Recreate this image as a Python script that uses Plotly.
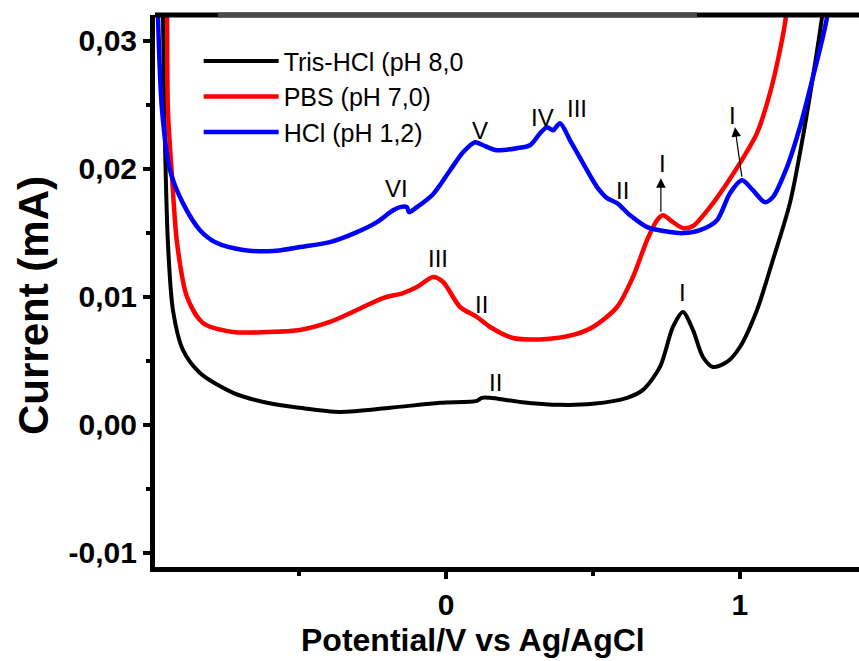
import plotly.graph_objects as go

# ---- data (Potential V vs Ag/AgCl, Current mA) ----
tris_x = [-0.966, -0.963, -0.956, -0.946, -0.929, -0.895, -0.837, -0.724, -0.609, -0.497, -0.361,
          -0.190, -0.020, 0.105, 0.122, 0.150, 0.252, 0.388, 0.500, 0.616, 0.670, 0.728,
          0.772, 0.806, 0.840, 0.874, 0.908, 0.956, 1.000, 1.058, 1.112, 1.170, 1.214,
          1.248, 1.279, 1.290]
tris_y = [0.0345, 0.0320, 0.0220, 0.0142, 0.00897, 0.00585, 0.00405, 0.00250, 0.00172, 0.00133,
          0.00101, 0.00133, 0.00172, 0.00187, 0.00211, 0.00211, 0.00179, 0.00156, 0.00164,
          0.00211, 0.00273, 0.00452, 0.00764, 0.00881, 0.00741, 0.00530, 0.00452, 0.00491,
          0.00608, 0.00897, 0.01287, 0.01731, 0.02246, 0.02713, 0.03181, 0.0340]

pbs_x = [-0.950, -0.949, -0.946, -0.932, -0.915, -0.881, -0.827, -0.724, -0.609, -0.497, -0.395,
         -0.303, -0.214, -0.146, -0.099, -0.044, -0.010, 0.048, 0.105, 0.150, 0.228, 0.344,
         0.432, 0.500, 0.582, 0.636, 0.684, 0.718, 0.738, 0.772, 0.806, 0.840, 0.898, 0.956,
         1.000, 1.058, 1.102, 1.136, 1.156, 1.165]
pbs_y = [0.0345, 0.0320, 0.02456, 0.01934, 0.01419, 0.00998, 0.00795, 0.00725, 0.00725, 0.00741,
         0.00803, 0.00897, 0.00990, 0.01029, 0.01076, 0.01154, 0.01115, 0.00920, 0.00842,
         0.00764, 0.00678, 0.00671, 0.00702, 0.00764, 0.00920, 0.01154, 0.01442, 0.01598,
         0.01637, 0.01583, 0.01536, 0.01552, 0.01700, 0.01887, 0.02043, 0.02277, 0.02589,
         0.02924, 0.03181, 0.0345]

hcl_x = [-0.982, -0.980, -0.966, -0.939, -0.895, -0.837, -0.779, -0.690, -0.588, -0.497, -0.395,
         -0.303, -0.235, -0.180, -0.156, -0.133, -0.126, -0.099, -0.044, 0.014, 0.058, 0.099,
         0.126, 0.173, 0.241, 0.286, 0.320, 0.344, 0.364, 0.388, 0.422, 0.466, 0.514, 0.548,
         0.582, 0.626, 0.684, 0.762, 0.806, 0.864, 0.922, 0.966, 1.007, 1.044, 1.085, 1.112,
         1.160, 1.204, 1.248, 1.296, 1.305]
hcl_y = [0.0345, 0.0320, 0.02456, 0.01988, 0.01731, 0.01520, 0.01419, 0.01365, 0.01357, 0.01388,
         0.01427, 0.01505, 0.01583, 0.01676, 0.01700, 0.01700, 0.01661, 0.01700, 0.01801,
         0.01988, 0.02129, 0.02207, 0.02183, 0.02144, 0.02160, 0.02183, 0.02277, 0.02324,
         0.02300, 0.02355, 0.02222, 0.02043, 0.01856, 0.01770, 0.01731, 0.01637, 0.01544,
         0.01505, 0.01497, 0.01520, 0.01598, 0.01809, 0.01910, 0.01832, 0.01739, 0.01778,
         0.02012, 0.02324, 0.02713, 0.03181, 0.0345]

series_names = ["Tris-HCl (pH 8,0", "PBS (pH 7,0)", "HCl (pH 1,2)"]
series_colors = ["#000000", "#ff0000", "#0000ff"]

y_tickvals = [-0.01, 0.0, 0.01, 0.02, 0.03]
y_ticktext = ["-0,01", "0,00", "0,01", "0,02", "0,03"]
x_tickvals = [0, 1]
x_ticktext = ["0", "1"]

x_title = "Potential/V vs Ag/AgCl"
y_title = "Current (mA)"

# peak labels
label_text = ["VI", "V", "IV", "III", "II", "I", "III", "II", "I", "II", "I"]
label_x = [-0.167, 0.116, 0.327, 0.446, 0.599, 0.973, -0.027, 0.122, 0.738, 0.167, 0.806]
label_y = [0.01848, 0.0230, 0.0240, 0.0247, 0.01832, 0.02417, 0.01302, 0.00936, 0.02043,
           0.00327, 0.01037]

# arrows: (head_x, head_y, tail_x, tail_y)
arrows = [(0.983, 0.02324, 1.007, 0.01926), (0.731, 0.01926, 0.731, 0.01653)]

FONT = "Arial, 'Liberation Sans', sans-serif"
W, H = 859, 661
ML, MR, MT, MB = 155, 0, 15, 94
PW, PH = W - ML - MR, H - MT - MB

fig = go.Figure()
for xs, ys, name, col, w in [(tris_x, tris_y, series_names[0], series_colors[0], 4),
                             (pbs_x, pbs_y, series_names[1], series_colors[1], 4.5),
                             (hcl_x, hcl_y, series_names[2], series_colors[2], 4.5)]:
    fig.add_trace(go.Scatter(x=xs, y=ys, mode="lines", name=name,
                             line=dict(color=col, width=w, shape="spline", smoothing=0.8)))

annotations = []
for t, x, y in zip(label_text, label_x, label_y):
    annotations.append(dict(x=x, y=y, xref="x", yref="y", text=t, showarrow=False,
                            font=dict(family=FONT, size=24, color="black")))
for hx, hy, tx, ty in arrows:
    annotations.append(dict(x=hx, y=hy, ax=tx, ay=ty, xref="x", yref="y", axref="x", ayref="y",
                            text="", showarrow=True, arrowhead=2, arrowsize=1.6,
                            arrowwidth=1.2, arrowcolor="black"))
# axis titles as paper annotations (positioned like the reference)
annotations.append(dict(x=(473 - ML) / PW, y=(H - MB - 640) / PH, xref="paper", yref="paper",
                        text="<b>" + x_title + "</b>", showarrow=False,
                        xanchor="center", yanchor="middle",
                        font=dict(family=FONT, size=32, color="black")))
annotations.append(dict(x=(33 - ML) / PW, y=(H - MB - 305) / PH, xref="paper", yref="paper",
                        text="<b>" + y_title + "</b>", showarrow=False, textangle=-90,
                        xanchor="center", yanchor="middle",
                        font=dict(family=FONT, size=42, color="black")))

fig.update_layout(
    width=W, height=H,
    margin=dict(l=ML, r=MR, t=MT, b=MB),
    paper_bgcolor="white", plot_bgcolor="white",
    font=dict(family=FONT, color="black"),
    showlegend=True,
    legend=dict(x=0.062, y=0.958, xanchor="left", yanchor="top",
                bgcolor="rgba(0,0,0,0)", borderwidth=0,
                font=dict(family=FONT, size=25, color="black"),
                itemwidth=75, tracegroupgap=0),
    annotations=annotations,
    shapes=[
        dict(type="line", xref="paper", yref="paper", x0=0, x1=1, y0=1, y1=1,
             line=dict(color="black", width=5)),
        dict(type="line", xref="paper", yref="paper", x0=(218 - ML) / PW, x1=(697 - ML) / PW,
             y0=1, y1=1, line=dict(color="#4a4a4a", width=5)),
    ],
)

fig.update_xaxes(range=[-0.990, 1.405], showgrid=False, zeroline=False,
                 showline=True, linecolor="black", linewidth=5,
                 ticks="outside", ticklen=7, tickwidth=4, tickcolor="black",
                 tickvals=x_tickvals, ticktext=x_ticktext,
                 tickfont=dict(family=FONT, size=30, color="black", weight="bold"),
                 minor=dict(tickvals=[-0.5, 0.5], ticks="outside", ticklen=4, tickwidth=4,
                            tickcolor="black"))
fig.update_yaxes(range=[-0.0111, 0.0320], showgrid=False, zeroline=False,
                 showline=True, linecolor="black", linewidth=5,
                 ticks="outside", ticklen=7, tickwidth=4, tickcolor="black",
                 tickvals=y_tickvals, ticktext=y_ticktext,
                 tickfont=dict(family=FONT, size=30, color="black", weight="bold"),
                 minor=dict(tickvals=[-0.005, 0.005, 0.015, 0.025], ticks="outside", ticklen=4,
                            tickwidth=4, tickcolor="black"))

fig.write_html("out.html")
